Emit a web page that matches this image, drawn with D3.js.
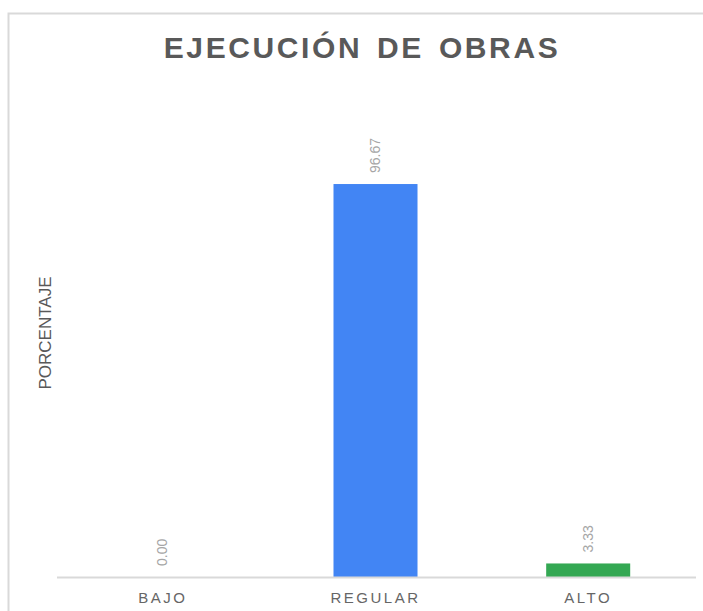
<!DOCTYPE html>
<html>

<head>
    <title>Ejecucion de obras</title>
    <meta charset="utf-8">
    <script src="https://d3js.org/d3.v7.min.js"></script>
    <style>
        body { margin: 0; background: #fff; }
        text { font-family: "Liberation Sans", Arial, sans-serif; }
    </style>
</head>

<body>
    <div id="chart"></div>
</body>

<script>
    // datos
    let categorias = ["BAJO", "REGULAR", "ALTO"];
    let valores = [0.00, 96.67, 3.33];
    let colores = ["#4285f4", "#4285f4", "#34a853"];

    let width = 703, height = 611;
    let left = 57, right = 694, base = 577;

    let svg = d3.select("#chart")
        .append("svg")
            .attr("width", width)
            .attr("height", height);

    // marco gris
    svg.append("rect")
        .attr("x", 8.5).attr("y", 13.5)
        .attr("width", 720).attr("height", 640)
        .attr("fill", "none")
        .attr("stroke", "#d9d9d9")
        .attr("stroke-width", 2);

    let x = d3.scaleBand()
        .domain(categorias)
        .range([left, right])
        .paddingInner(0.605)
        .paddingOuter(0.3);

    let y = d3.scaleLinear()
        .domain([0, 100])
        .range([base, 170.5]);

    let data = categorias.map((c, i) => ({ cat: c, val: valores[i], color: colores[i] }));

    svg.append("g")
        .selectAll("rect")
        .data(data)
        .join("rect")
            .attr("x", d => x(d.cat))
            .attr("y", d => y(d.val))
            .attr("width", x.bandwidth())
            .attr("height", d => base - y(d.val))
            .attr("fill", d => d.color);

    // linea base
    svg.append("line")
        .attr("x1", left).attr("x2", right + 2)
        .attr("y1", base + 0.5).attr("y2", base + 0.5)
        .attr("stroke", "#d9d9d9")
        .attr("stroke-width", 2);

    // etiquetas de valor
    svg.append("g")
        .selectAll("text")
        .data(data)
        .join("text")
            .attr("transform", d => `translate(${x(d.cat) + x.bandwidth() / 2 + 4.5},${y(d.val) - 11}) rotate(-90)`)
            .attr("text-anchor", "start")
            .attr("font-size", 14)
            .attr("fill", "#a6a6a6")
            .text(d => d.val.toFixed(2));

    // eje x
    svg.append("g")
        .selectAll("text")
        .data(categorias)
        .join("text")
            .attr("x", d => x(d) + x.bandwidth() / 2)
            .attr("y", 603)
            .attr("text-anchor", "middle")
            .attr("font-size", 15)
            .attr("letter-spacing", 2.5)
            .attr("fill", "#666")
            .text(d => d);

    // titulo
    svg.append("text")
        .attr("x", 362)
        .attr("y", 58)
        .attr("text-anchor", "middle")
        .attr("font-size", 30)
        .attr("font-weight", "bold")
        .attr("letter-spacing", 2.6)
        .attr("word-spacing", 4)
        .attr("fill", "#595959")
        .text("EJECUCIÓN DE OBRAS");

    svg.append("text")
        .attr("transform", "translate(51,333) rotate(-90)")
        .attr("text-anchor", "middle")
        .attr("font-size", 17)
        .attr("fill", "#595959")
        .text("PORCENTAJE");
</script>

</html>
